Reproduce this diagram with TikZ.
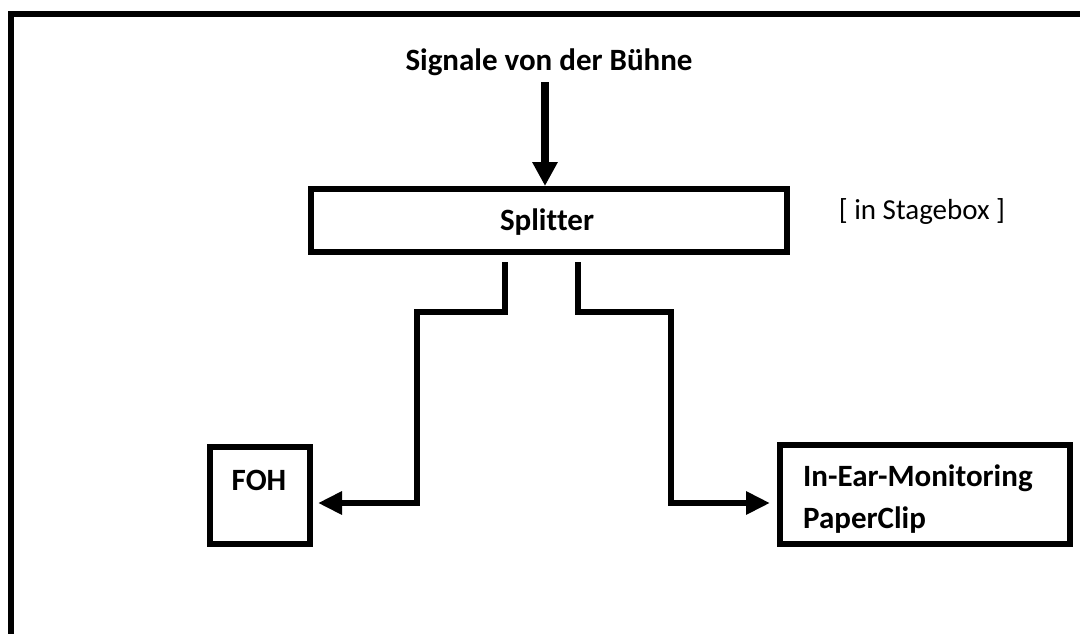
\documentclass[tikz,border=0pt]{standalone}
\usepackage{fontspec}
\setmainfont{Carlito}[RawFeature=-liga]
\usetikzlibrary{arrows.meta}
\begin{document}
\begin{tikzpicture}[x=1pt,y=-1pt,
  boxstyle/.style={draw=black,line width=6pt,rectangle,inner sep=0pt},
  btext/.style={font=\fontsize{31}{38}\selectfont\bfseries,inner sep=0pt},
  rtext/.style={font=\fontsize{29}{35}\selectfont,inner sep=0pt},
  conn/.style={draw=black,line width=6.5pt,-{Triangle[length=24pt,width=22pt]}}]
\useasboundingbox (0,0) rectangle (1080,633);
% frame (open on the right and at the bottom)
\draw[line width=6pt] (11,640) -- (11,14) -- (1090,14);
% nodes
\node[btext] (sig) at (549,62) {Signale von der Bühne};
\node[boxstyle,minimum width=476pt,minimum height=63pt] (split) at (549,220.5) {};
\node[btext] (splitt) at (547,222) {Splitter};
\node[rtext] (stage) at (922,212) {[ in Stagebox ]};
\node[boxstyle,minimum width=100pt,minimum height=97pt] (foh) at (260,495.5) {};
\node[btext] (foht) at (259,480) {FOH};
\node[boxstyle,minimum width=290pt,minimum height=99pt] (iem) at (925,494.5) {};
\node[btext,anchor=west,align=left] (iemt) at (803,499) {In-Ear-Monitoring\\[4pt]PaperClip};
% connectors
\coordinate (sigend) at (545,82);
\draw[line width=8pt,-{Triangle[length=24pt,width=24pt]}] (sigend) -- (split.north -| sigend);
\coordinate (s1) at (505,262);
\coordinate (s2) at (578,262);
\coordinate (t1) at (318,503);
\coordinate (t2) at (770,503);
\draw[conn] (s1) -- (505,312) -- (417,312) -- (417,503) -- (t1);
\draw[conn] (s2) -- (578,312) -- (671,312) -- (671,503) -- (t2);
\end{tikzpicture}
\end{document}
